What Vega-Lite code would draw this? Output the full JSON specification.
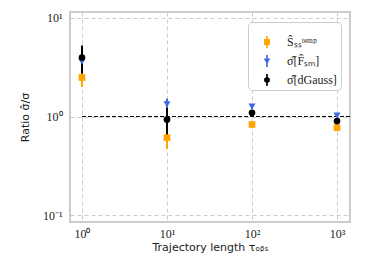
{
  "$schema": "https://vega.github.io/schema/vega-lite/v6.json",
  "width": 280,
  "height": 210,
  "autosize": {"type": "none"},
  "padding": {"left": 70, "top": 12, "right": 15, "bottom": 52},
  "background": "white",
  "config": {
    "view": {"stroke": "#cccccc", "strokeWidth": 2},
    "axis": {
      "domain": false,
      "ticks": false,
      "grid": true,
      "gridColor": "#cccccc",
      "gridDash": [4, 3],
      "gridWidth": 1,
      "labelFont": "Liberation Serif",
      "labelFontSize": 12,
      "labelColor": "#222222",
      "titleFont": "DejaVu Sans",
      "titleFontSize": 11,
      "titleFontWeight": "normal",
      "titleColor": "#222222"
    }
  },
  "datasets": {
    "pts": [
      {"tau": 1, "series": "S", "ratio": 2.49, "lo": 2.0, "hi": 3.05},
      {"tau": 1, "series": "F", "ratio": 3.6, "lo": 3.25, "hi": 3.95},
      {"tau": 1, "series": "d", "ratio": 3.97, "lo": 2.73, "hi": 5.26},
      {"tau": 10, "series": "S", "ratio": 0.61, "lo": 0.47, "hi": 0.76},
      {"tau": 10, "series": "F", "ratio": 1.33, "lo": 1.12, "hi": 1.52},
      {"tau": 10, "series": "d", "ratio": 0.93, "lo": 0.6, "hi": 1.22},
      {"tau": 100, "series": "S", "ratio": 0.83, "lo": 0.8, "hi": 0.86},
      {"tau": 100, "series": "F", "ratio": 1.26, "lo": 1.19, "hi": 1.34},
      {"tau": 100, "series": "d", "ratio": 1.09, "lo": 1.03, "hi": 1.16},
      {"tau": 1000, "series": "S", "ratio": 0.77, "lo": 0.75, "hi": 0.79},
      {"tau": 1000, "series": "F", "ratio": 1.02, "lo": 0.99, "hi": 1.05},
      {"tau": 1000, "series": "d", "ratio": 0.9, "lo": 0.87, "hi": 0.93}
    ],
    "ref": [{"x": 1, "x2": 1422, "y": 1}]
  },
  "encoding": {
    "x": {
      "field": "tau",
      "type": "quantitative",
      "scale": {"type": "log", "domain": [0.723, 1422], "nice": false},
      "axis": {
        "values": [1, 10, 100, 1000],
        "labelExpr": "datum.value == 1 ? '10⁰' : datum.value == 10 ? '10¹' : datum.value == 100 ? '10²' : '10³'",
        "title": "Trajectory length τₒᵦₛ",
        "labelPadding": 6,
        "titlePadding": 2
      }
    },
    "y": {
      "type": "quantitative",
      "scale": {"type": "log", "domain": [0.085, 11.5], "nice": false},
      "axis": {
        "values": [0.1, 1, 10],
        "labelExpr": "datum.value == 0.1 ? '10⁻¹' : datum.value == 1 ? '10⁰' : '10¹'",
        "title": "Ratio σ̂/σ",
        "labelPadding": 8,
        "titlePadding": 12
      }
    }
  },
  "layer": [
    {
      "data": {"name": "ref"},
      "mark": {"type": "rule", "color": "black", "strokeDash": [4, 2], "strokeWidth": 1, "clip": true},
      "encoding": {
        "x": {"field": "x", "type": "quantitative"},
        "x2": {"field": "x2"},
        "y": {"field": "y", "type": "quantitative"}
      }
    },
    {
      "data": {"name": "pts"},
      "transform": [{"filter": "datum.series == 'S'"}],
      "mark": {"type": "rule", "strokeWidth": 2, "color": "#FFA500"},
      "encoding": {"y": {"field": "lo", "type": "quantitative"}, "y2": {"field": "hi"}}
    },
    {
      "data": {"name": "pts"},
      "transform": [{"filter": "datum.series == 'F'"}],
      "mark": {"type": "rule", "strokeWidth": 2, "color": "#4169E1"},
      "encoding": {"y": {"field": "lo", "type": "quantitative"}, "y2": {"field": "hi"}}
    },
    {
      "data": {"name": "pts"},
      "transform": [{"filter": "datum.series == 'd'"}],
      "mark": {"type": "rule", "strokeWidth": 2, "color": "#000000"},
      "encoding": {"y": {"field": "lo", "type": "quantitative"}, "y2": {"field": "hi"}}
    },
    {
      "data": {"name": "pts"},
      "transform": [{"filter": "datum.series == 'S'"}],
      "mark": {"type": "point", "filled": true, "opacity": 1, "size": 45, "shape": "square", "color": "#FFA500"},
      "encoding": {"y": {"field": "ratio", "type": "quantitative"}}
    },
    {
      "data": {"name": "pts"},
      "transform": [{"filter": "datum.series == 'F'"}],
      "mark": {"type": "point", "filled": true, "opacity": 1, "size": 50, "shape": "triangle-down", "color": "#4169E1"},
      "encoding": {"y": {"field": "ratio", "type": "quantitative"}}
    },
    {
      "data": {"name": "pts"},
      "transform": [{"filter": "datum.series == 'd'"}],
      "mark": {"type": "point", "filled": true, "opacity": 1, "size": 45, "shape": "circle", "color": "#000000"},
      "encoding": {"y": {"field": "ratio", "type": "quantitative"}}
    },
    {
      "data": {"name": "pts"},
      "mark": {"type": "point", "filled": true, "opacity": 1, "size": 0},
      "encoding": {
        "y": {"field": "ratio", "type": "quantitative"},
        "color": {
          "field": "series", "type": "nominal",
          "scale": {"domain": ["S", "F", "d"], "range": ["#FFA500", "#4169E1", "#000000"]},
          "legend": {
            "orient": "none",
            "legendX": 178,
            "legendY": 10,
            "title": " ",
            "titleFontSize": 7,
            "titlePadding": 3,
            "fillColor": "white",
            "strokeColor": "#cccccc",
            "cornerRadius": 4,
            "padding": 4,
            "rowPadding": 7,
            "symbolOffset": 9,
            "symbolSize": 144,
            "symbolOpacity": 1,
            "symbolStrokeWidth": 0,
            "labelFont": "Liberation Serif",
            "labelFontSize": 12,
            "labelColor": "#222222",
            "labelOffset": 14,
            "labelExpr": "datum.value == 'S' ? 'Ŝₛₛᵗᵉᵐᵖ' : datum.value == 'F' ? 'σ̂[F̂ₛₘ]' : 'σ̂[dGauss]'"
          }
        },
        "shape": {
          "field": "series", "type": "nominal",
          "scale": {"domain": ["S", "F", "d"], "range": [
            "M-0.14,-1H0.14V1H-0.14Z M-0.5,-0.5H0.5V0.5H-0.5Z",
            "M-0.14,-1H0.14V1H-0.14Z M-0.55,-0.4L0.55,-0.4L0,0.55Z",
            "M-0.14,-1H0.14V1H-0.14Z M0.5,0A0.5,0.5 0 1,1 -0.5,0A0.5,0.5 0 1,1 0.5,0Z"
          ]}
        }
      }
    }
  ]
}
